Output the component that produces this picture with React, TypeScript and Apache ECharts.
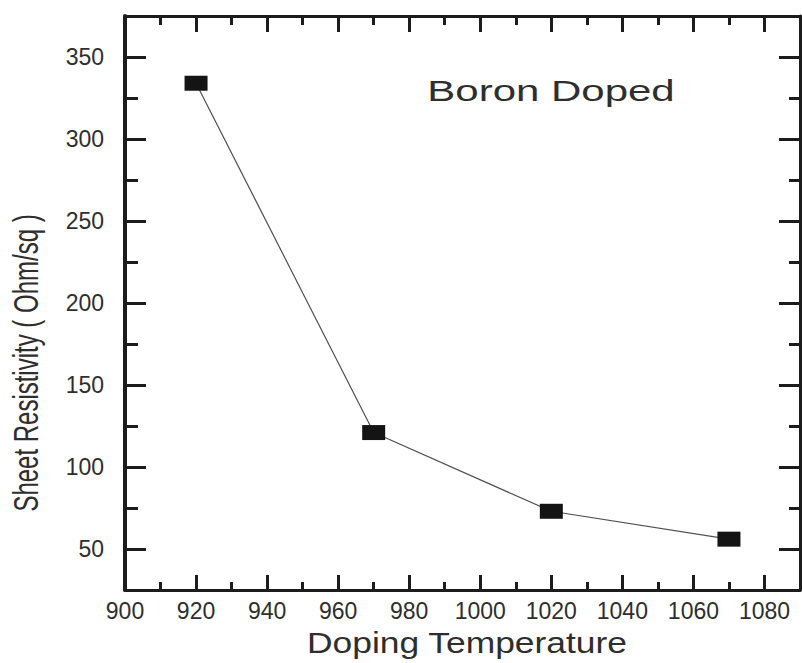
import React, { useEffect, useRef } from "react";
import * as echarts from "echarts";

const temperatures = [920, 970, 1020, 1070];
const resistivity = [334, 121, 73, 56];

const xMajorTicks = [900, 920, 940, 960, 980, 1000, 1020, 1040, 1060, 1080];
const xMinorTicks = [910, 930, 950, 970, 990, 1010, 1030, 1050, 1070];
const yMajorTicks = [50, 100, 150, 200, 250, 300, 350];
const yMinorTicks = [75, 125, 175, 225, 275, 325];

const xTitle = "Doping Temperature";
const yTitle = "Sheet Resistivity ( Ohm/sq )";
const annotation = "Boron Doped";

const AXIS_COLOR = "#1c1c1c";
const TEXT_COLOR = "#2e2e2e";
const FONT = "'Liberation Sans', Arial, sans-serif";

export default function App() {
  const ref = useRef<HTMLDivElement>(null);

  useEffect(() => {
    if (!ref.current) return;
    const chart = echarts.init(ref.current, undefined, { renderer: "svg" });

    const plain = (v: number) => String(v);

    const xBase = (position: string, lineShow: boolean, ticks: number[], len: number, labels: boolean) => ({
      type: "value",
      position,
      min: 900,
      max: 1090,
      axisLine: { show: lineShow, onZero: false, lineStyle: { color: AXIS_COLOR, width: 3 } },
      axisTick: { show: true, inside: true, length: len, customValues: ticks, lineStyle: { color: AXIS_COLOR, width: 3 } },
      axisLabel: labels
        ? { show: true, customValues: ticks, margin: 9, color: TEXT_COLOR, fontFamily: FONT, fontSize: 23, formatter: plain }
        : { show: false },
      splitLine: { show: false },
      minorTick: { show: false },
    });

    const yBase = (position: string, lineShow: boolean, ticks: number[], len: number, labels: boolean, lw: number) => ({
      type: "value",
      position,
      min: 25,
      max: 375,
      axisLine: { show: lineShow, onZero: false, lineStyle: { color: AXIS_COLOR, width: lw } },
      axisTick: { show: true, inside: true, length: len, customValues: ticks, lineStyle: { color: AXIS_COLOR, width: 3 } },
      axisLabel: labels
        ? { show: true, customValues: ticks, margin: 21, color: TEXT_COLOR, fontFamily: FONT, fontSize: 23, formatter: plain }
        : { show: false },
      splitLine: { show: false },
      minorTick: { show: false },
    });

    chart.setOption({
      animation: false,
      backgroundColor: "#ffffff",
      grid: { left: 125, right: 2, top: 16, bottom: 73, containLabel: false, outerBoundsMode: "none" },
      xAxis: [
        xBase("bottom", true, xMajorTicks, 15, true),
        xBase("bottom", false, xMinorTicks, 8, false),
        xBase("top", true, xMajorTicks, 16, false),
        xBase("top", false, xMinorTicks, 9, false),
      ],
      yAxis: [
        yBase("left", true, yMajorTicks, 21, true, 4),
        yBase("left", false, yMinorTicks, 13, false, 4),
        yBase("right", true, yMajorTicks, 21, false, 3),
        yBase("right", false, yMinorTicks, 11, false, 3),
      ],
      series: [
        {
          type: "line",
          xAxisIndex: 0,
          yAxisIndex: 0,
          data: temperatures.map((t, i) => [t, resistivity[i]]),
          symbol: "rect",
          symbolSize: [23, 15],
          itemStyle: { color: "#141414" },
          lineStyle: { color: "#505050", width: 1.2 },
          z: 3,
        },
      ],
      graphic: [
        {
          type: "text",
          x: 551,
          y: 91,
          scaleX: 1.4,
          style: {
            text: annotation,
            font: `30px ${FONT}`,
            fill: TEXT_COLOR,
            textAlign: "center",
            textVerticalAlign: "middle",
          },
        },
        {
          type: "text",
          x: 467,
          y: 642,
          scaleX: 1.18,
          style: {
            text: xTitle,
            font: `30px ${FONT}`,
            fill: TEXT_COLOR,
            textAlign: "center",
            textVerticalAlign: "middle",
          },
        },
        {
          type: "text",
          x: 26,
          y: 363,
          rotation: Math.PI / 2,
          scaleX: 1.0,
          scaleY: 1.45,
          style: {
            text: yTitle,
            font: `24px ${FONT}`,
            fill: TEXT_COLOR,
            textAlign: "center",
            textVerticalAlign: "middle",
          },
        },
      ],
    });

    return () => chart.dispose();
  }, []);

  return (
    <div
      ref={ref}
      style={{ position: "absolute", left: 0, top: 0, width: 802, height: 663 }}
    />
  );
}
